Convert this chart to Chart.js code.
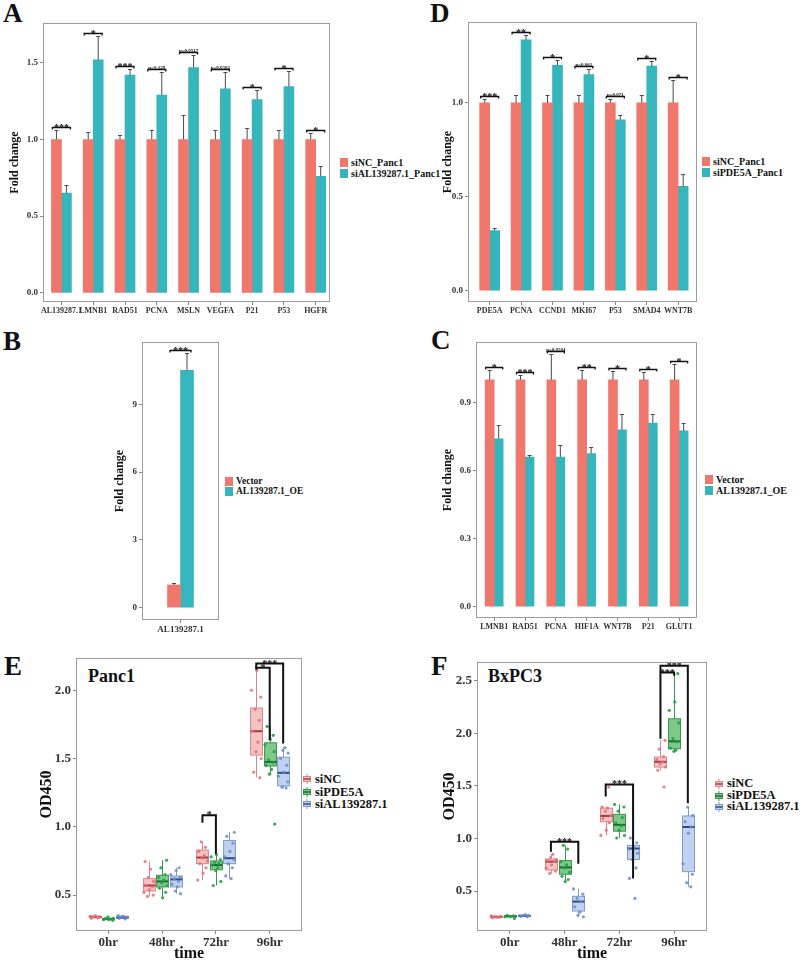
<!DOCTYPE html>
<html>
<head>
<meta charset="utf-8">
<title>Fold change and OD450 panels</title>
<script src="https://cdn.jsdelivr.net/npm/chart.js@4.4.1/dist/chart.umd.min.js"></script>
<style>
  html, body { margin: 0; background: #fff; }
  body { position: relative; width: 800px; height: 963px; overflow: hidden;
         font-family: 'Liberation Serif', 'Times New Roman', serif; font-weight: bold; color: #111; }
  canvas { position: absolute; }
  .tag { position: absolute; font-size: 27px; line-height: 1; }
  .cell { position: absolute; font-size: 18px; line-height: 1; }
  .legend { position: absolute; white-space: nowrap; }
  .legend div { display: flex; align-items: center; }
  .legend i { display: inline-block; width: 8px; height: 9px; margin-right: 3px; }
  .legend svg { margin-right: 3px; }
</style>
</head>
<body>
<div class="tag" style="left:3px;top:0">A</div>
<div class="tag" style="left:430px;top:0">D</div>
<div class="tag" style="left:3px;top:328px">B</div>
<div class="tag" style="left:431px;top:327px">C</div>
<div class="tag" style="left:4px;top:653px">E</div>
<div class="tag" style="left:431px;top:653px">F</div>
<div class="cell" style="left:88px;top:667px">Panc1</div>
<div class="cell" style="left:488px;top:667px">BxPC3</div>
<div id="legA" class="legend" style="left:340px;top:157px;font-size:10px;line-height:11px"></div>
<div id="legD" class="legend" style="left:702px;top:156px;font-size:10px;line-height:11px"></div>
<div id="legB" class="legend" style="left:225px;top:476px;font-size:9.5px;line-height:10px"></div>
<div id="legC" class="legend" style="left:705px;top:474px;font-size:10px;line-height:11px"></div>
<div id="legE" class="legend" style="left:302px;top:773px;font-size:12.5px;line-height:12.5px"></div>
<div id="legF" class="legend" style="left:714px;top:778px;font-size:12.5px;line-height:11.7px"></div>
<script>
const $ = (id) => document.getElementById(id);

// ---- A: siAL139287.1 knockdown, Panc1
const catsA = ['AL139287.1', 'LMNB1', 'RAD51', 'PCNA', 'MSLN', 'VEGFA', 'P21', 'P53', 'HGFR'];
const ctrlA = [1, 1, 1, 1, 1, 1, 1, 1, 1];
const ctrlErrA = [1.06, 1.05, 1.03, 1.06, 1.16, 1.065, 1.075, 1.06, 1.04];
const trtA = [0.65, 1.52, 1.42, 1.29, 1.47, 1.33, 1.26, 1.345, 0.76];
const trtErrA = [0.70, 1.675, 1.46, 1.44, 1.55, 1.44, 1.32, 1.45, 0.825];
const sigA = ['***', '*', '***', 'p=0.129', 'p=0.0517', 'p=0.0582', '*', '*', '*'];
const ticksA = [0, 0.5, 1, 1.5];

// ---- D: siPDE5A knockdown, Panc1
const catsD = ['PDE5A', 'PCNA', 'CCND1', 'MKI67', 'P53', 'SMAD4', 'WNT7B'];
const ctrlD = [1, 1, 1, 1, 1, 1, 1];
const ctrlErrD = [1.02, 1.04, 1.04, 1.04, 1.02, 1.04, 1.12];
const trtD = [0.32, 1.335, 1.20, 1.15, 0.91, 1.195, 0.555];
const trtErrD = [0.335, 1.36, 1.23, 1.18, 0.935, 1.22, 0.62];
const sigD = ['***', '**', '*', 'p=0.061', 'p=0.071', '*', '*'];
const ticksD = [0, 0.5, 1];

// ---- B: AL139287.1 overexpression
const catsB = ['AL139287.1'];
const ctrlB = [1];
const ctrlErrB = [1.1];
const trtB = [10.5];
const trtErrB = [11.26];
const sigB = ['***'];
const ticksB = [0, 3, 6, 9];

// ---- C: AL139287.1 overexpression, targets
const catsC = ['LMNB1', 'RAD51', 'PCNA', 'HIF1A', 'WNT7B', 'P21', 'GLUT1'];
const ctrlC = [1, 1, 1, 1, 1, 1, 1];
const ctrlErrC = [1.045, 1.02, 1.115, 1.045, 1.04, 1.035, 1.068];
const trtC = [0.74, 0.66, 0.66, 0.675, 0.78, 0.81, 0.775];
const trtErrC = [0.80, 0.668, 0.715, 0.705, 0.85, 0.85, 0.81];
const sigC = ['*', '***', 'p=0.0504', '**', '*', '*', '*'];
const ticksC = [0, 0.3, 0.6, 0.9];

// ---- E / F: OD450 over time
const times = ['0hr', '48hr', '72hr', '96hr'];
const groups = ['siNC', 'siPDE5A', 'siAL139287.1'];
// [min, q1, median, q3, max] per time point
const boxE = [
  [[0.33, 0.335, 0.34, 0.345, 0.35], [0.49, 0.53, 0.57, 0.62, 0.745], [0.61, 0.73, 0.775, 0.83, 0.89], [1.36, 1.525, 1.70, 1.87, 2.145]],
  [[0.315, 0.32, 0.325, 0.33, 0.34], [0.48, 0.56, 0.60, 0.645, 0.755], [0.57, 0.685, 0.72, 0.75, 0.795], [1.385, 1.445, 1.475, 1.615, 1.735]],
  [[0.325, 0.33, 0.335, 0.345, 0.35], [0.51, 0.56, 0.615, 0.64, 0.70], [0.62, 0.73, 0.77, 0.90, 0.96], [1.285, 1.30, 1.395, 1.51, 1.58]],
];
const dotsE = [
  [[0.33, 0.335, 0.34, 0.34, 0.345, 0.35, 0.335, 0.34], [0.49, 0.50, 0.52, 0.54, 0.56, 0.57, 0.60, 0.63, 0.69, 0.745],
   [0.61, 0.66, 0.70, 0.73, 0.75, 0.77, 0.79, 0.82, 0.85, 0.89], [1.36, 1.40, 1.50, 1.55, 1.62, 1.70, 1.78, 1.86, 1.95, 2.0, 2.145]],
  [[0.315, 0.32, 0.32, 0.325, 0.33, 0.33, 0.34], [0.48, 0.52, 0.55, 0.57, 0.59, 0.61, 0.63, 0.65, 0.70, 0.755],
   [0.57, 0.60, 0.68, 0.70, 0.72, 0.73, 0.74, 0.76, 0.78, 0.795], [1.385, 1.42, 1.45, 1.47, 1.49, 1.55, 1.60, 1.64, 1.67, 1.735, 1.02]],
  [[0.325, 0.33, 0.335, 0.34, 0.345, 0.35], [0.51, 0.53, 0.56, 0.58, 0.60, 0.62, 0.63, 0.65, 0.68, 0.70],
   [0.62, 0.64, 0.70, 0.73, 0.76, 0.78, 0.82, 0.88, 0.93, 0.96], [1.285, 1.29, 1.33, 1.37, 1.40, 1.45, 1.50, 1.54, 1.56, 1.58]],
];
const bracketsE = [
  { t: 2, g1: 0, g2: 1, y: 1.085, y1: 1.03, y2: 0.80, label: '*' },
  { t: 3, g1: 0, g2: 1, y: 2.165, y1: 2.15, y2: 1.635, label: '*' },
  { t: 3, g1: 0, g2: 2, y: 2.195, y1: 2.16, y2: 1.61, label: '***' },
];
const ticksE = [0.5, 1, 1.5, 2];

const boxF = [
  [[0.245, 0.25, 0.255, 0.26, 0.265], [0.668, 0.70, 0.78, 0.805, 0.85], [1.03, 1.16, 1.215, 1.29, 1.30], [1.65, 1.68, 1.73, 1.775, 1.935]],
  [[0.24, 0.255, 0.26, 0.265, 0.27], [0.59, 0.66, 0.725, 0.79, 0.935], [1.005, 1.07, 1.13, 1.23, 1.325], [1.83, 1.855, 1.925, 2.14, 2.57]],
  [[0.255, 0.26, 0.265, 0.27, 0.275], [0.255, 0.31, 0.40, 0.45, 0.52], [0.72, 0.80, 0.905, 0.935, 1.005], [0.54, 0.685, 1.11, 1.215, 1.30]],
];
const dotsF = [
  [[0.245, 0.25, 0.255, 0.26, 0.265, 0.25], [0.668, 0.69, 0.72, 0.75, 0.78, 0.79, 0.80, 0.82, 0.85],
   [1.03, 1.08, 1.15, 1.19, 1.22, 1.26, 1.29, 1.30, 1.49], [1.49, 1.65, 1.68, 1.71, 1.73, 1.75, 1.78, 1.85, 1.935]],
  [[0.24, 0.255, 0.26, 0.265, 0.27], [0.59, 0.61, 0.64, 0.68, 0.72, 0.75, 0.78, 0.90, 0.935],
   [1.005, 1.03, 1.08, 1.12, 1.15, 1.20, 1.26, 1.30, 1.325], [1.83, 1.84, 1.86, 1.92, 1.95, 2.10, 2.22, 2.30, 2.57]],
  [[0.255, 0.26, 0.265, 0.27, 0.275], [0.255, 0.27, 0.30, 0.35, 0.40, 0.43, 0.47, 0.52],
   [0.43, 0.62, 0.72, 0.80, 0.86, 0.90, 0.92, 0.96, 1.005], [0.54, 0.58, 0.66, 0.76, 1.05, 1.11, 1.16, 1.22, 1.30]],
];
const bracketsF = [
  { t: 1, g1: 0, g2: 2, y: 0.97, y1: 0.875, y2: 0.76, label: '***' },
  { t: 2, g1: 0, g2: 2, y: 1.515, y1: 1.40, y2: 0.62, label: '***' },
  { t: 3, g1: 0, g2: 1, y: 2.58, y1: 1.95, y2: 2.55, label: '***' },
  { t: 3, g1: 0, g2: 2, y: 2.645, y1: 2.58, y2: 1.335, label: '***' },
];
const ticksF = [0.5, 1, 1.5, 2, 2.5];

// ---- styling
const SERIF = "'Liberation Serif', 'Times New Roman', serif";
const BAR_COLORS = ['#f0776b', '#35b6bc'];
const FILL = ['rgba(245,185,185,0.85)', 'rgba(110,195,125,0.9)', 'rgba(185,205,238,0.9)'];
const EDGE = ['#d7868b', '#3a9650', '#7f9bcb'];
const MEDIAN = ['#a63a47', '#1d6b31', '#2d4d88'];
const DOT = ['rgba(228,112,120,0.85)', 'rgba(35,160,70,0.9)', 'rgba(105,140,205,0.85)'];
const OFFSETS = [-0.25, 0, 0.25];
const BOX_W = 0.22;
const JITTER = [-0.3, 0.25, -0.1, 0.38, -0.4, 0.05, 0.3, -0.22, 0.42, -0.02, 0.15];

function frame(box, pad) {
  const c = document.createElement('canvas');
  const w = box.r - box.l + pad.l + pad.r;
  const h = box.b - box.t + pad.t + pad.b;
  c.width = w; c.height = h;
  Object.assign(c.style, { left: `${box.l - pad.l}px`, top: `${box.t - pad.t}px`, width: `${w}px`, height: `${h}px` });
  document.body.appendChild(c);
  return c;
}

const border = {
  id: 'border',
  afterDraw(chart) {
    const { ctx, chartArea: a } = chart;
    ctx.save();
    ctx.strokeStyle = '#9c9c9c';
    ctx.lineWidth = 1;
    ctx.strokeRect(a.left + 0.5, a.top + 0.5, a.width - 1, a.height - 1);
    ctx.restore();
  },
};

function yAxis(o, pad) {
  return {
    min: o.ymin, max: o.ymax,
    afterBuildTicks: (s) => { s.ticks = o.ticks.map((v) => ({ value: v })); },
    afterFit: (s) => { s.width = pad.l; },
    ticks: { callback: (v) => v.toFixed(o.dec), color: '#333', padding: 2,
             font: { family: SERIF, size: o.tickSize, weight: 'bold' } },
    grid: { drawOnChartArea: false, tickLength: 3, color: '#888' },
    border: { display: false },
    title: { display: true, text: o.ytitle, color: '#111', padding: { top: o.titlePad, bottom: 0 },
             font: { family: SERIF, size: o.titleSize, weight: 'bold' } },
  };
}

function xAxis(o, pad, labels) {
  return {
    type: 'linear', min: o.xmin, max: o.xmax, offset: false,
    afterBuildTicks: (s) => { s.ticks = labels.map((_, i) => ({ value: i })); },
    afterFit: (s) => { s.height = pad.b; },
    ticks: { callback: (v) => labels[v], autoSkip: false, maxRotation: 0, minRotation: 0,
             color: '#333', padding: 1, font: { family: SERIF, size: o.xTickSize || o.tickSize, weight: 'bold' } },
    grid: { drawOnChartArea: false, offset: false, tickLength: 3, color: '#888' },
    border: { display: false },
    title: o.xtitle
      ? { display: true, text: o.xtitle, color: '#111', padding: { top: 0, bottom: 0 },
          font: { family: SERIF, size: o.titleSize, weight: 'bold' } }
      : { display: false },
  };
}

function barPanel(box, pad, o) {
  const marks = {
    id: 'marks',
    afterDatasetsDraw(chart) {
      const { ctx } = chart;
      const y = chart.scales.y;
      const m0 = chart.getDatasetMeta(0).data;
      const m1 = chart.getDatasetMeta(1).data;
      ctx.save();
      ctx.strokeStyle = '#4a4a4a';
      ctx.lineWidth = 1;
      [[m0, o.ctrlErr], [m1, o.trtErr]].forEach(([bars, errs]) => bars.forEach((bar, i) => {
        const top = Math.round(y.getPixelForValue(errs[i])) + 0.5;
        ctx.beginPath();
        ctx.moveTo(bar.x, bar.y); ctx.lineTo(bar.x, top);
        ctx.moveTo(bar.x - 2, top); ctx.lineTo(bar.x + 2, top);
        ctx.stroke();
      }));
      // significance bars
      ctx.strokeStyle = '#111';
      ctx.fillStyle = '#111';
      ctx.textAlign = 'center';
      ctx.lineWidth = 1.3;
      o.sig.forEach((label, i) => {
        const x1 = m0[i].x - 4, x2 = m1[i].x + 4;
        const yy = Math.round(y.getPixelForValue(Math.max(o.ctrlErr[i], o.trtErr[i]))) - 2.5;
        ctx.beginPath();
        ctx.moveTo(x1, yy + 2); ctx.lineTo(x1, yy); ctx.lineTo(x2, yy); ctx.lineTo(x2, yy + 2);
        ctx.stroke();
        const star = label.startsWith('*');
        ctx.font = `bold ${star ? 10 : 5}px ${SERIF}`;
        ctx.fillText(label, (x1 + x2) / 2, star ? yy + 3 : yy - 1);
      });
      ctx.restore();
    },
  };
  return new Chart(frame(box, pad), {
    type: 'bar',
    data: {
      datasets: [
        { data: o.ctrl.map((v, i) => ({ x: i, y: v })), backgroundColor: BAR_COLORS[0], barThickness: o.bar },
        { data: o.trt.map((v, i) => ({ x: i, y: v })), backgroundColor: BAR_COLORS[1], barThickness: o.bar },
      ],
    },
    options: {
      responsive: false, animation: false, events: [],
      layout: { padding: { left: 0, top: pad.t, right: pad.r, bottom: 0 } },
      plugins: { legend: { display: false }, tooltip: { enabled: false } },
      scales: { x: xAxis(o, pad, o.cats), y: yAxis(o, pad) },
    },
    plugins: [border, marks],
  });
}

function boxPanel(box, pad, o) {
  const boxes = {
    id: 'boxes',
    beforeDatasetsDraw(chart) {
      const { ctx } = chart;
      const { x, y } = chart.scales;
      const half = (x.getPixelForValue(BOX_W) - x.getPixelForValue(0)) / 2;
      ctx.save();
      o.stats.forEach((byTime, g) => byTime.forEach((s, t) => {
        const cx = Math.round(x.getPixelForValue(t + OFFSETS[g])) + 0.5;
        const [mn, q1, md, q3, mx] = s.map((v) => y.getPixelForValue(v));
        ctx.strokeStyle = EDGE[g];
        ctx.lineWidth = 1;
        ctx.beginPath();
        ctx.moveTo(cx, q3); ctx.lineTo(cx, mx);
        ctx.moveTo(cx, q1); ctx.lineTo(cx, mn);
        ctx.stroke();
        ctx.fillStyle = FILL[g];
        ctx.fillRect(cx - half, q3, half * 2, q1 - q3);
        ctx.strokeRect(cx - half, q3, half * 2, q1 - q3);
        ctx.strokeStyle = MEDIAN[g];
        ctx.lineWidth = 2;
        ctx.beginPath();
        ctx.moveTo(cx - half, md); ctx.lineTo(cx + half, md);
        ctx.stroke();
      }));
      ctx.restore();
    },
    afterDatasetsDraw(chart) {
      const { ctx } = chart;
      const { x, y } = chart.scales;
      ctx.save();
      ctx.strokeStyle = '#111';
      ctx.fillStyle = '#111';
      ctx.lineWidth = 2;
      ctx.textAlign = 'center';
      ctx.font = `bold 10px ${SERIF}`;
      o.brackets.forEach((b) => {
        const x1 = x.getPixelForValue(b.t + OFFSETS[b.g1]);
        const x2 = x.getPixelForValue(b.t + OFFSETS[b.g2]);
        const yy = y.getPixelForValue(b.y);
        ctx.beginPath();
        ctx.moveTo(x1, y.getPixelForValue(b.y1));
        ctx.lineTo(x1, yy); ctx.lineTo(x2, yy);
        ctx.lineTo(x2, y.getPixelForValue(b.y2));
        ctx.stroke();
        ctx.fillText(b.label, (x1 + x2) / 2, yy + 3);
      });
      ctx.restore();
    },
  };
  const datasets = o.dots.map((byTime, g) => ({
    data: byTime.flatMap((vals, t) => vals.map((v, k) => ({
      x: t + OFFSETS[g] + JITTER[(k + g * 3 + t * 2) % JITTER.length] * BOX_W,
      y: v,
    }))),
    pointRadius: 1.6,
    pointBackgroundColor: DOT[g],
    pointBorderWidth: 0,
  }));
  return new Chart(frame(box, pad), {
    type: 'scatter',
    data: { datasets },
    options: {
      responsive: false, animation: false, events: [],
      layout: { padding: { left: 0, top: pad.t, right: pad.r, bottom: 0 } },
      plugins: { legend: { display: false }, tooltip: { enabled: false } },
      scales: { x: xAxis(o, pad, times), y: yAxis(o, pad) },
    },
    plugins: [border, boxes],
  });
}

function barLegend(id, names) {
  $(id).innerHTML = names.map((n, i) => `<div><i style="background:${BAR_COLORS[i]}"></i>${n}</div>`).join('');
}

function boxLegend(id) {
  $(id).innerHTML = groups.map((n, i) => `<div><svg width="10" height="10">
    <line x1="5" y1="0" x2="5" y2="10" stroke="${EDGE[i]}"/>
    <rect x="1.5" y="2.5" width="7" height="5" fill="${FILL[i]}" stroke="${EDGE[i]}"/>
    <line x1="1.5" y1="5" x2="8.5" y2="5" stroke="${MEDIAN[i]}" stroke-width="1.5"/></svg>${n}</div>`).join('');
}

barPanel({ l: 43, t: 23, r: 330, b: 302 }, { l: 43, t: 12, r: 8, b: 16 }, {
  cats: catsA, ctrl: ctrlA, ctrlErr: ctrlErrA, trt: trtA, trtErr: trtErrA, sig: sigA, ticks: ticksA,
  ymin: -0.06, ymax: 1.76, xmin: -0.58, xmax: 8.45, bar: 10, dec: 1,
  tickSize: 9, xTickSize: 8, ytitle: 'Fold change', titleSize: 12, titlePad: 8,
});
barPanel({ l: 468, t: 22, r: 697, b: 302 }, { l: 40, t: 12, r: 8, b: 16 }, {
  cats: catsD, ctrl: ctrlD, ctrlErr: ctrlErrD, trt: trtD, trtErr: trtErrD, sig: sigD, ticks: ticksD,
  ymin: -0.06, ymax: 1.43, xmin: -0.69, xmax: 6.6, bar: 10, dec: 1,
  tickSize: 9, xTickSize: 8, ytitle: 'Fold change', titleSize: 12, titlePad: 13,
});
barPanel({ l: 142, t: 342, r: 219, b: 620 }, { l: 40, t: 12, r: 8, b: 16 }, {
  cats: catsB, ctrl: ctrlB, ctrlErr: ctrlErrB, trt: trtB, trtErr: trtErrB, sig: sigB, ticks: ticksB,
  ymin: -0.55, ymax: 11.76, xmin: -0.6, xmax: 0.6, bar: 13, dec: 0,
  tickSize: 9, ytitle: 'Fold change', titleSize: 12, titlePad: 11,
});
barPanel({ l: 476, t: 342, r: 697, b: 618 }, { l: 40, t: 12, r: 8, b: 16 }, {
  cats: catsC, ctrl: ctrlC, ctrlErr: ctrlErrC, trt: trtC, trtErr: trtErrC, sig: sigC, ticks: ticksC,
  ymin: -0.05, ymax: 1.167, xmin: -0.59, xmax: 6.58, bar: 9, dec: 1,
  tickSize: 9, xTickSize: 8, ytitle: 'Fold change', titleSize: 12, titlePad: 5,
});
boxPanel({ l: 76, t: 658, r: 302, b: 931 }, { l: 40, t: 12, r: 6, b: 32 }, {
  stats: boxE, dots: dotsE, brackets: bracketsE, ticks: ticksE,
  ymin: 0.237, ymax: 2.236, xmin: -0.6, xmax: 3.6, dec: 1,
  tickSize: 13, ytitle: 'OD450', xtitle: 'time', titleSize: 16, titlePad: 1,
});
boxPanel({ l: 477, t: 662, r: 707, b: 931 }, { l: 40, t: 12, r: 6, b: 32 }, {
  stats: boxF, dots: dotsF, brackets: bracketsF, ticks: ticksF,
  ymin: 0.12, ymax: 2.68, xmin: -0.6, xmax: 3.6, dec: 1,
  tickSize: 13, ytitle: 'OD450', xtitle: 'time', titleSize: 16, titlePad: 3,
});

barLegend('legA', ['siNC_Panc1', 'siAL139287.1_Panc1']);
barLegend('legD', ['siNC_Panc1', 'siPDE5A_Panc1']);
barLegend('legB', ['Vector', 'AL139287.1_OE']);
barLegend('legC', ['Vector', 'AL139287.1_OE']);
boxLegend('legE');
boxLegend('legF');
</script>
</body>
</html>
